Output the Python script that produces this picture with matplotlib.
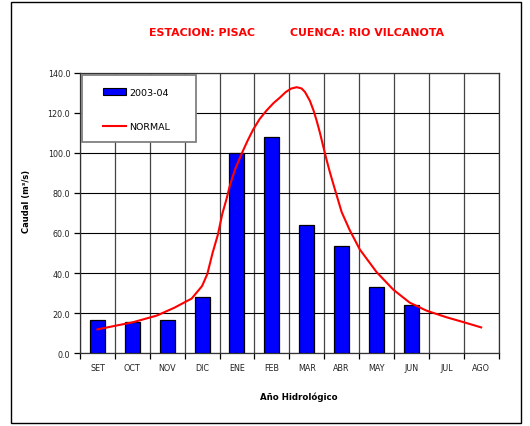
import numpy as np
import matplotlib
matplotlib.use("Agg")
import matplotlib.pyplot as plt
from matplotlib.patches import Rectangle, Patch
from matplotlib.lines import Line2D

# caudales mensuales del año hidrologico 2003-04 (m3/s)
meses = ["SET", "OCT", "NOV", "DIC", "ENE", "FEB", "MAR", "ABR", "MAY", "JUN", "JUL", "AGO"]
caudal_2003 = [16.3, 15.5, 16.3, 27.9, 100.0, 108.2, 63.9, 53.5, 32.8, 24.1, np.nan, np.nan]

# curva normal (posicion en meses desde SET, caudal)
normal_pos = [0.0, 0.45, 1.0, 1.7, 2.2, 2.7, 3.0, 3.15, 3.3, 3.45, 3.58, 3.7, 3.8, 3.95,
              4.13, 4.3, 4.46, 4.65, 4.85, 5.05, 5.23, 5.4, 5.55, 5.71, 5.85, 5.95, 6.09,
              6.2, 6.28, 6.38, 6.47, 6.57, 6.66, 6.77, 6.85, 7.0, 7.23, 7.52, 8.0, 8.48,
              8.95, 9.43, 10.0, 10.48, 11.0]
normal_q = [11.8, 13.4, 15.3, 18.7, 22.6, 27.2, 33.5, 39.5, 50.0, 59.0, 69.6, 77.0, 84.0, 92.0,
            99.5, 106.0, 111.6, 117.0, 121.3, 125.0, 127.7, 130.5, 132.2, 132.9, 132.3, 130.5, 126.1,
            121.0, 116.4, 110.0, 103.5, 96.5, 90.6, 84.0, 79.3, 70.5, 61.5, 51.8, 40.5, 31.7,
            25.2, 21.2, 17.9, 15.5, 12.8]

W, H = 530, 427
fig = plt.figure(figsize=(W / 100, H / 100), dpi=100)
ax = fig.add_axes([80 / W, 1 - 354 / H, 418.6 / W, 280 / H])

x = np.arange(len(meses))
ax.bar(x, caudal_2003, width=0.43, color="#0000FF", edgecolor="black", linewidth=0.9, zorder=3)
ax.plot(normal_pos, normal_q, color="#FF0000", linewidth=1.5, zorder=4)

ax.set_xlim(-0.5, len(meses) - 0.5)
ax.set_ylim(0, 140)
ax.set_yticks(np.arange(0, 141, 20))
ax.set_yticklabels([f"{v:.1f}" for v in np.arange(0, 141, 20)], fontsize=5.8, color="#222222")
ax.set_xticks(x)
ax.set_xticklabels(meses, fontsize=5.8, color="#222222")
ax.set_xticks(np.arange(-0.5, len(meses), 1), minor=True)
ax.tick_params(axis="x", which="major", length=0, pad=7)
ax.tick_params(axis="x", which="minor", length=4, width=0.9, direction="out")
ax.tick_params(axis="y", length=4, width=0.9, pad=3)

ax.grid(axis="y", color="black", linewidth=0.8, zorder=1)
ax.grid(axis="x", which="minor", color="#444444", linewidth=0.9, zorder=1)
ax.set_axisbelow(True)
for s in ax.spines.values():
    s.set_linewidth(0.9)
    s.set_color("#333333")

# titulo
fig.text(149 / W, 1 - 33 / H, "ESTACION: PISAC", color="#FF0000", fontsize=7.9, fontweight="bold",
         ha="left", va="center")
fig.text(290 / W, 1 - 33 / H, "CUENCA: RIO VILCANOTA", color="#FF0000", fontsize=7.9, fontweight="bold",
         ha="left", va="center")

fig.text(27 / W, 1 - 201 / H, "Caudal (m³/s)", rotation=90, fontsize=6, fontweight="bold",
         ha="center", va="center")
fig.text(299 / W, 1 - 397 / H, "Año Hidrológico", fontsize=6.2, fontweight="bold",
         ha="center", va="center")

# leyenda con recuadro gris
fig.patches.append(Rectangle((82 / W, 1 - 143 / H), 114 / W, 67 / H, transform=fig.transFigure,
                             facecolor="white", edgecolor="#808080", linewidth=1.3, zorder=5))
handles = [Patch(facecolor="#0000FF", edgecolor="black", linewidth=0.8),
           Line2D([0], [0], color="#FF0000", linewidth=1.5)]
leg = fig.legend(handles, ["2003-04", "NORMAL"], loc="upper left",
                 bbox_to_anchor=(95 / W, 1 - 81 / H), frameon=False, fontsize=6.8,
                 handlelength=2.5, handleheight=0.8, handletextpad=0.3, labelspacing=2.7,
                 borderpad=0.3)
leg.set_zorder(6)

# marco exterior
fig.patches.append(Rectangle((11 / W, 1 - 424 / H), 510 / W, 421 / H, transform=fig.transFigure,
                             fill=False, edgecolor="black", linewidth=1.0))

fig.savefig("out.png", dpi=100)
